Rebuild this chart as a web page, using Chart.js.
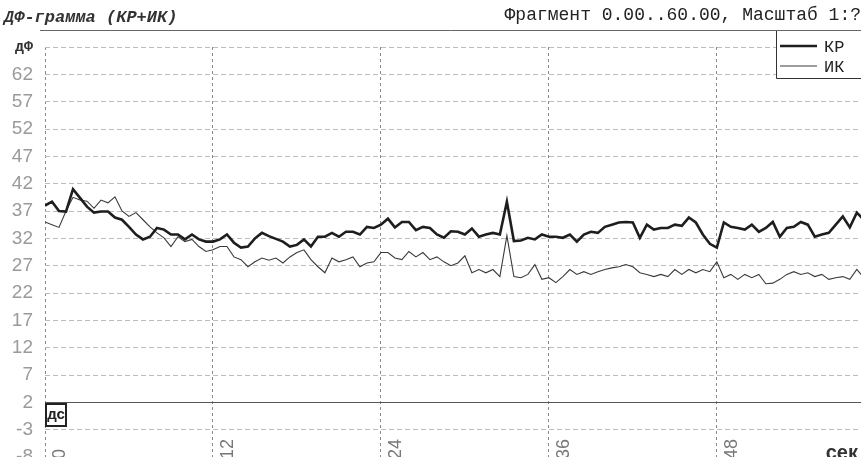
<!DOCTYPE html>
<html>
<head>
	<meta charset="utf-8">
	<script src="https://cdn.jsdelivr.net/npm/chart.js@4.4.1/dist/chart.umd.min.js"></script>
	<style type="text/css">
	html, body{
		margin: 0;
		padding: 0;
		background: #fff;
	}
	#holder{
		width: 861px;
		height: 457px;
	}
	</style>
</head>
<body>
	<div id="holder"><canvas id="chart-area" width="861" height="457"></canvas></div>

	<script>

	// time, seconds (sampled every 0.5 s)
	var seconds = [0,0.5,1,1.5,2,2.5,3,3.5,4,4.5,5,5.5,6,6.5,7,7.5,8,8.5,9,9.5,
		10,10.5,11,11.5,12,12.5,13,13.5,14,14.5,15,15.5,16,16.5,17,17.5,18,18.5,19,19.5,
		20,20.5,21,21.5,22,22.5,23,23.5,24,24.5,25,25.5,26,26.5,27,27.5,28,28.5,29,29.5,
		30,30.5,31,31.5,32,32.5,33,33.5,34,34.5,35,35.5,36,36.5,37,37.5,38,38.5,39,39.5,
		40,40.5,41,41.5,42,42.5,43,43.5,44,44.5,45,45.5,46,46.5,47,47.5,48,48.5,49,49.5,
		50,50.5,51,51.5,52,52.5,53,53.5,54,54.5,55,55.5,56,56.5,57,57.5,58,58.5];

	// КР trace
	var kr = [38,38.7,37,36.9,41,39.4,37.8,36.7,36.9,36.9,
		35.8,35.4,34.1,32.7,31.8,32.3,33.9,33.6,32.7,32.7,
		31.8,32.7,31.8,31.4,31.4,31.8,32.7,31.2,30.3,30.5,
		32,33,32.4,31.9,31.4,30.5,30.8,31.8,30.5,32.3,
		32.3,33,32.3,33.2,33.2,32.7,34.1,33.9,34.5,35.6,
		34,35,35,33.5,34.1,33.9,32.7,32.1,33.3,33.2,
		32.7,33.8,32.3,32.7,33,32.7,38.7,31.5,31.6,32.1,
		31.8,32.7,32.3,32.3,32.1,32.7,31.4,32.7,33.2,33,
		34.1,34.5,34.9,35,34.9,32.1,34.5,33.6,33.9,33.9,
		34.5,34.3,35.8,34.9,32.7,31,30.3,34.9,34.1,33.9,
		33.6,34.5,33.2,33.9,35,32.3,33.9,34.1,35,34.5,
		32.3,32.7,33,34.5,36,34,36.7,35.4];

	// ИК trace
	var ik = [35,34.5,34,37,39.5,39,38.8,37.5,39,38.5,
		39.6,37,36,36.7,35.4,34.1,33,32.1,30.5,32.3,
		31.4,31.8,30.5,29.6,29.9,30.5,30.5,28.6,28.1,26.8,
		27.7,28.4,28,28.4,27.5,28.6,29.4,29.9,28.1,26.8,
		25.7,28.4,27.7,28.1,28.6,26.8,27.5,27.7,29.4,29.4,
		28.4,28.1,29.6,28.6,29.4,28.1,28.6,27.7,27,27.5,
		28.8,25.7,26.3,25.7,26.3,25,32.5,25,24.8,25.4,
		27.2,24.5,24.8,23.9,25,26.3,25.4,25.9,25.4,25.9,
		26.3,26.6,26.8,27.2,26.8,25.7,25.4,25,25.4,25,
		26.3,25.4,26.3,25.7,26.3,25.9,27.7,24.8,25.4,24.5,
		25.4,24.8,25.4,23.7,23.8,24.5,25.4,25.9,25.4,25.7,
		25,25.4,24.5,24.8,25,24.5,26.3,24.8];

	var yTicks = [-8,-3,2,7,12,17,22,27,32,37,42,47,52,57,62,67];
	var xTicks = [0,12,24,36,48];

	var titleText = 'ДФ-грамма (КР+ИК)';
	var fragmentText = 'Фрагмент 0.00..60.00, Масштаб 1:?';

	function points(arr){
		var out = [];
		for (var i = 0; i < seconds.length; i++) {
			out.push({x: seconds[i], y: arr[i]});
		}
		return out;
	}

	var mono = '"Liberation Mono", "DejaVu Sans Mono", monospace';

	var decor = {
		id: 'decor',
		beforeDraw: function(chart) {
			var c = chart.ctx;
			c.save();
			c.fillStyle = '#fff';
			c.fillRect(0, 0, chart.width, chart.height);
			c.restore();
		},
		afterDraw: function(chart) {
			var c = chart.ctx;
			var xs = chart.scales.x;
			c.save();
			c.setLineDash([]);

			// header
			c.fillStyle = '#333';
			c.textBaseline = 'alphabetic';
			c.font = 'italic bold 17px ' + mono;
			c.textAlign = 'left';
			c.fillText(titleText, 4, 22);
			c.font = '18px ' + mono;
			c.textAlign = 'right';
			c.fillStyle = '#222';
			c.fillText(fragmentText, 861, 20);

			c.strokeStyle = '#666';
			c.lineWidth = 1;
			c.beginPath();
			c.moveTo(40, 30.5);
			c.lineTo(861, 30.5);
			c.stroke();

			// legend box
			c.fillStyle = '#fff';
			c.fillRect(777, 31, 84, 47);
			c.strokeStyle = '#333';
			c.beginPath();
			c.moveTo(776.5, 31);
			c.lineTo(776.5, 78.5);
			c.lineTo(861, 78.5);
			c.stroke();
			c.font = '17px ' + mono;
			c.textAlign = 'left';
			c.textBaseline = 'middle';
			chart.data.datasets.forEach(function(ds, i) {
				var y = 46 + i * 20;
				c.strokeStyle = ds.borderColor;
				c.lineWidth = ds.borderWidth;
				c.beginPath();
				c.moveTo(780, y);
				c.lineTo(817, y);
				c.stroke();
				c.fillStyle = '#222';
				c.fillText(ds.label, 824, y + 1);
			});

			// rotated x tick labels
			c.fillStyle = '#777';
			c.font = '18px "Liberation Sans", sans-serif';
			xTicks.forEach(function(v) {
				var px = xs.getPixelForValue(v);
				c.save();
				c.translate(px + 20, 459);
				c.rotate(-Math.PI / 2);
				c.textAlign = 'left';
				c.textBaseline = 'alphabetic';
				c.fillText(String(v), 0, 0);
				c.restore();
			});

			// units
			c.fillStyle = '#333';
			c.font = 'bold 20px "Liberation Sans", sans-serif';
			c.textAlign = 'right';
			c.textBaseline = 'alphabetic';
			c.fillText('сек', 858, 459);

			// ДС marker
			c.strokeStyle = '#222';
			c.lineWidth = 2;
			c.strokeRect(46, 404, 20, 22);
			c.fillStyle = '#222';
			c.font = 'bold 15px "Liberation Sans", sans-serif';
			c.textAlign = 'center';
			c.textBaseline = 'middle';
			c.fillText('дс', 56, 415);

			c.restore();
		}
	};

	var config = {
		type: 'line',
		data: {
			datasets: [{
				label: 'КР',
				data: points(kr),
				borderColor: '#1e1e1e',
				borderWidth: 2.6,
				pointRadius: 0,
				tension: 0
			}, {
				label: 'ИК',
				data: points(ik),
				borderColor: '#3a3a3a',
				borderWidth: 1.1,
				pointRadius: 0,
				tension: 0
			}]
		},
		options: {
			responsive: false,
			animation: false,
			layout: {
				padding: {top: 47, left: 0, right: 0, bottom: 0}
			},
			plugins: {
				legend: {display: false},
				tooltip: {enabled: false}
			},
			scales: {
				x: {
					type: 'linear',
					min: 0,
					max: 58.3,
					afterBuildTicks: function(scale) {
						scale.ticks = xTicks.map(function(v) { return {value: v}; });
					},
					afterFit: function(scale) {
						scale.height = 0;
						scale.paddingLeft = 0;
						scale.paddingRight = 0;
					},
					ticks: {display: false},
					border: {display: false, dash: [3, 3]},
					grid: {
						drawTicks: false,
						color: '#8a8a8a',
						lineWidth: 1
					}
				},
				y: {
					min: -8,
					max: 67,
					afterBuildTicks: function(scale) {
						scale.ticks = yTicks.map(function(v) { return {value: v}; });
					},
					afterFit: function(scale) {
						scale.width = 45;
						scale.paddingTop = 0;
						scale.paddingBottom = 0;
					},
					border: {
						display: false,
						dash: function(ctx) {
							return ctx.tick && ctx.tick.value === 2 ? [] : [5, 3];
						}
					},
					grid: {
						drawTicks: false,
						color: function(ctx) {
							return ctx.tick && ctx.tick.value === 2 ? '#555' : '#bdbdbd';
						},
						lineWidth: 1
					},
					ticks: {
						padding: 12,
						autoSkip: false,
						color: function(ctx) {
							return ctx.tick && ctx.tick.value === 67 ? '#333' : '#9a9a9a';
						},
						font: function(ctx) {
							if (ctx.tick && ctx.tick.value === 67) {
								return {family: mono, size: 15, weight: 'bold'};
							}
							return {family: '"Liberation Sans", sans-serif', size: 19};
						},
						callback: function(v) {
							return v === 67 ? 'дФ' : v;
						}
					}
				}
			}
		},
		plugins: [decor]
	};

	window.onload = function() {
		var ctx = document.getElementById('chart-area').getContext('2d');
		var chart = new Chart(ctx, config);
	};

	</script>
</body>
</html>
